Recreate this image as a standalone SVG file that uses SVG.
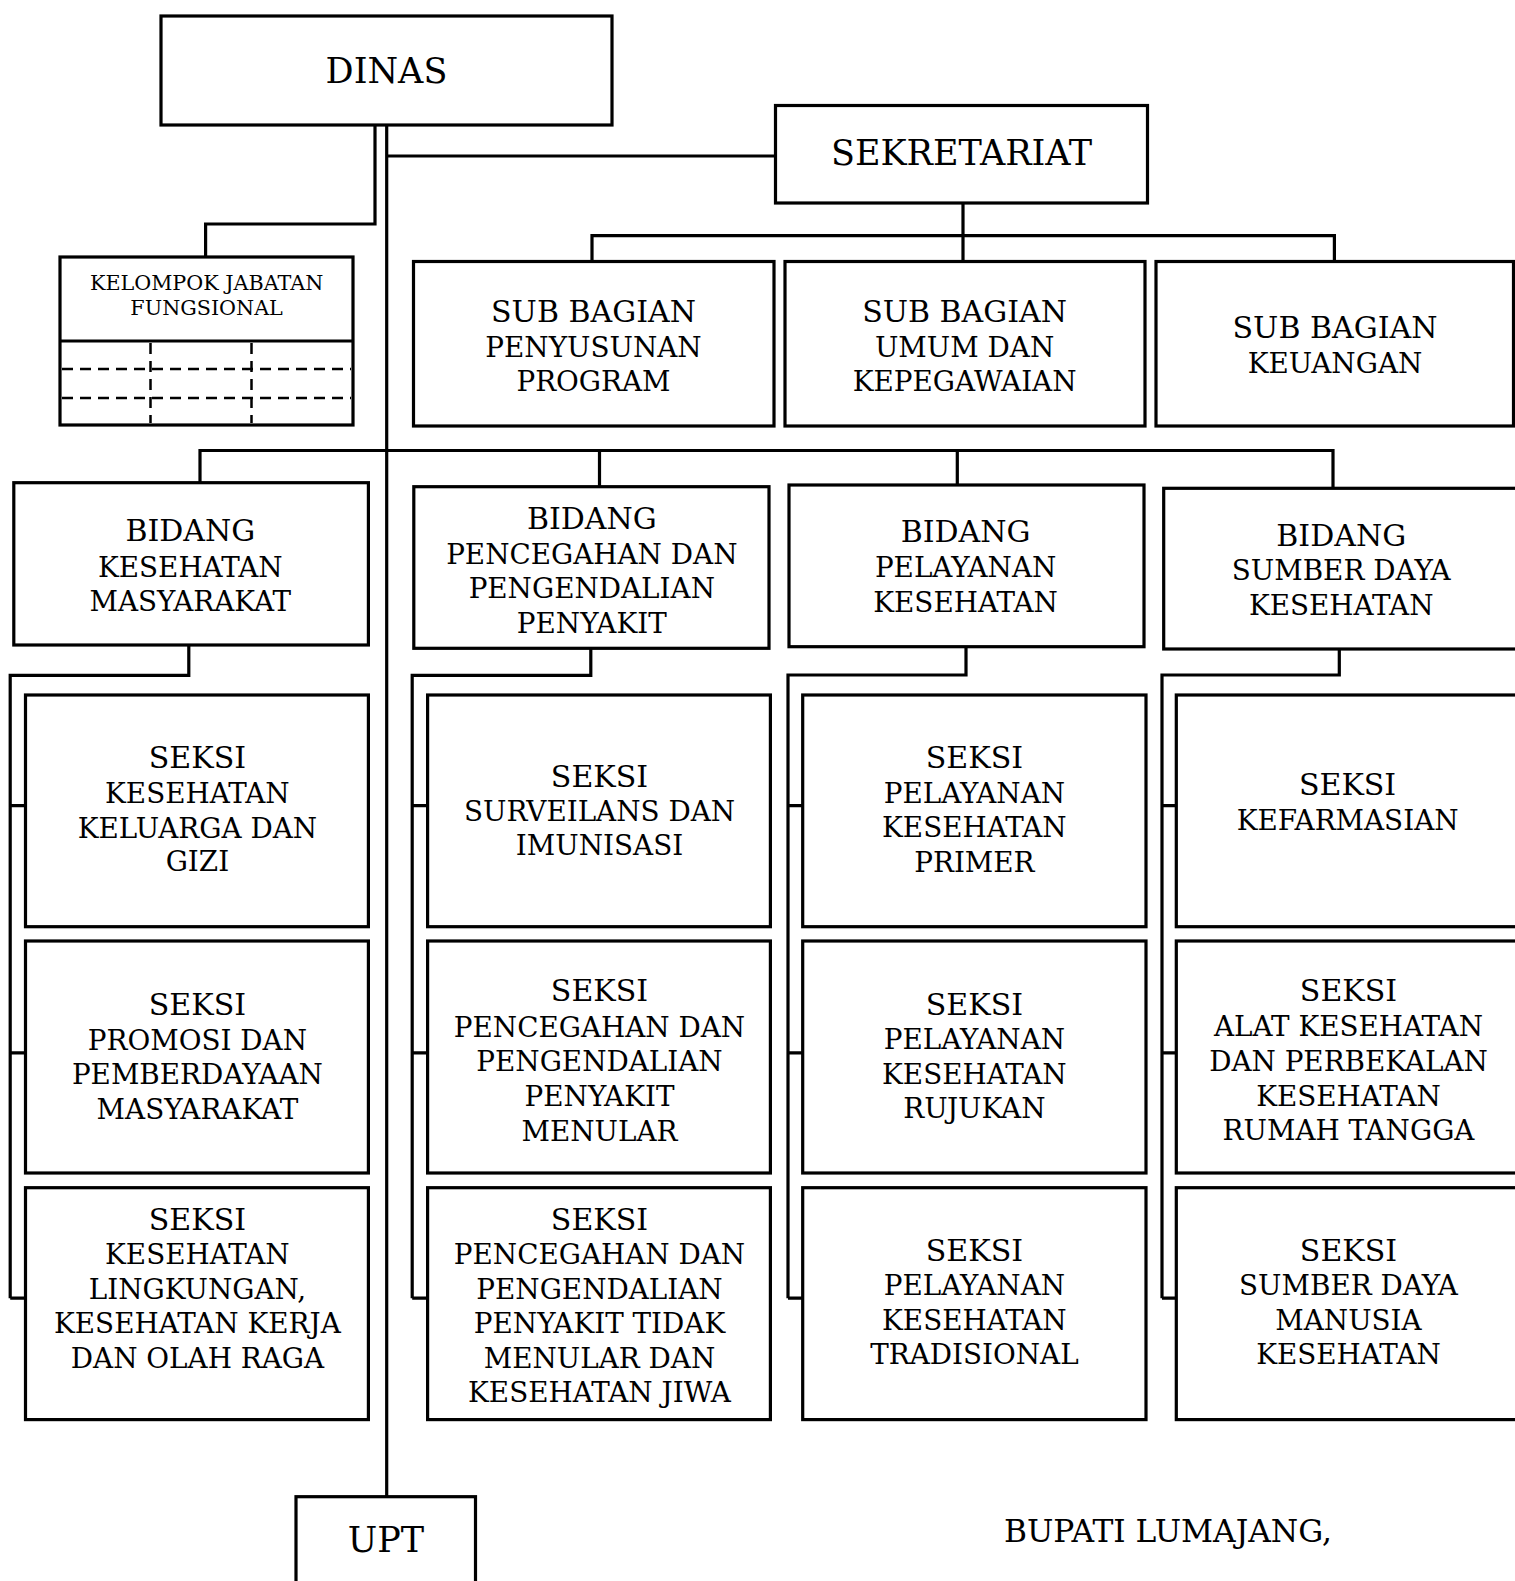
<svg xmlns="http://www.w3.org/2000/svg" width="1515" height="1581" viewBox="0 0 1515 1581">
<style>
.box{fill:#fff;stroke:#000;stroke-width:3.2}
.ln{fill:none;stroke:#000;stroke-width:3.2}
.dash{fill:none;stroke:#000;stroke-width:2.5;stroke-dasharray:11 7}
text{font-family:"DejaVu Serif","Liberation Serif",serif;fill:#000;text-anchor:middle}
.t{font-size:30px}
.s{font-size:27.8px}
.big{font-size:35px}
.sm{font-size:20.7px}
</style>
<rect width="1515" height="1581" fill="#fff"/>
<g id="connectors">
<path class="ln" d="M386.7,125 V1496"/>
<path class="ln" d="M375,125 V224 H205.6 V257"/>
<path class="ln" d="M386.7,156 H775.5"/>
<path class="ln" d="M963,203 V261.5 M592,261.5 V235.7 H1334.4 V261.5"/>
<path class="ln" d="M200,482.7 V450.5 H1333 V488.3 M599.5,450.5 V486.7 M957.3,450.5 V485"/>
<path class="ln" d="M188.8,645 V675.3 H10.2 V1298.2 M10.2,805.7 H25.5 M10.2,1052.8 H25.5 M10.2,1298.2 H25.5"/>
<path class="ln" d="M590.8,648.3 V675.3 H412.2 V1298.2 M412.2,805.7 H427.6 M412.2,1052.8 H427.6 M412.2,1298.2 H427.6"/>
<path class="ln" d="M966,646.7 V675 H788 V1298.2 M788,805.7 H802.7 M788,1052.8 H802.7 M788,1298.2 H802.7"/>
<path class="ln" d="M1339.3,649 V675 H1162 V1298.2 M1162,805.7 H1176.3 M1162,1052.8 H1176.3 M1162,1298.2 H1176.3"/>
</g>
<g id="dinas"><rect class="box" x="161" y="16" width="451" height="109"/><text class="big" x="386.5" y="83">DINAS</text></g>
<g id="sekretariat"><rect class="box" x="775.5" y="105.5" width="372" height="97.5"/><text class="big" x="961.5" y="165">SEKRETARIAT</text></g>
<g id="kelompok-jabatan-fungsional">
<rect class="box" x="60" y="257" width="293" height="168"/>
<path class="ln" d="M60,341 H353"/>
<path class="dash" d="M62,369 H351 M62,398 H351 M150.5,343 V423 M251.5,343 V423"/>
<text class="sm" x="206.6" y="290">KELOMPOK JABATAN</text>
<text class="sm" x="206.6" y="315">FUNGSIONAL</text>
</g>
<g id="sub-bagian-penyusunan-program"><rect class="box" x="413.5" y="261.5" width="360.5" height="164.5"/>
<text x="593.5"><tspan class="t" x="593.5" y="322">SUB BAGIAN</tspan><tspan class="s" x="593.5" y="356.7">PENYUSUNAN</tspan><tspan class="s" x="593.5" y="390.7">PROGRAM</tspan></text></g>
<g id="sub-bagian-umum"><rect class="box" x="785" y="261.5" width="360" height="164.5"/>
<text><tspan class="t" x="964.6" y="321.7">SUB BAGIAN</tspan><tspan class="s" x="964.6" y="356.7">UMUM DAN</tspan><tspan class="s" x="964.6" y="391">KEPEGAWAIAN</tspan></text></g>
<g id="sub-bagian-keuangan"><rect class="box" x="1156" y="261.5" width="357.5" height="164.5"/>
<text><tspan class="t" x="1335" y="337.7">SUB BAGIAN</tspan><tspan class="s" x="1335" y="372.7">KEUANGAN</tspan></text></g>
<g id="bidang-kesmas"><rect class="box" x="13.8" y="482.7" width="354.6" height="162.3"/>
<text><tspan class="t" x="190.3" y="541">BIDANG</tspan><tspan class="s" x="190.3" y="576.7">KESEHATAN</tspan><tspan class="s" x="190.3" y="610.7">MASYARAKAT</tspan></text></g>
<g id="bidang-p2p"><rect class="box" x="413.8" y="486.7" width="355.2" height="161.6"/>
<text><tspan class="t" x="591.8" y="529.3">BIDANG</tspan><tspan class="s" x="591.8" y="564">PENCEGAHAN DAN</tspan><tspan class="s" x="591.8" y="598.3">PENGENDALIAN</tspan><tspan class="s" x="591.8" y="632.7">PENYAKIT</tspan></text></g>
<g id="bidang-yankes"><rect class="box" x="789" y="485" width="355" height="161.7"/>
<text><tspan class="t" x="965.6" y="542.3">BIDANG</tspan><tspan class="s" x="965.6" y="577.3">PELAYANAN</tspan><tspan class="s" x="965.6" y="611.7">KESEHATAN</tspan></text></g>
<g id="bidang-sdk"><rect class="box" x="1163.7" y="488.3" width="370" height="160.7"/>
<text><tspan class="t" x="1341.2" y="545.7">BIDANG</tspan><tspan class="s" x="1341.2" y="580">SUMBER DAYA</tspan><tspan class="s" x="1341.2" y="615">KESEHATAN</tspan></text></g>
<g id="seksi-kesga-gizi"><rect class="box" x="25.5" y="695" width="342.9" height="231.7"/>
<text><tspan class="t" x="197.4" y="768.3">SEKSI</tspan><tspan class="s" x="197.4" y="802.7">KESEHATAN</tspan><tspan class="s" x="197.4" y="837.7">KELUARGA DAN</tspan><tspan class="s" x="197.4" y="871">GIZI</tspan></text></g>
<g id="seksi-promosi"><rect class="box" x="25.5" y="941" width="342.9" height="232"/>
<text><tspan class="t" x="197.4" y="1014.9">SEKSI</tspan><tspan class="s" x="197.4" y="1049.9">PROMOSI DAN</tspan><tspan class="s" x="197.4" y="1084.4">PEMBERDAYAAN</tspan><tspan class="s" x="197.4" y="1119">MASYARAKAT</tspan></text></g>
<g id="seksi-kesling"><rect class="box" x="25.5" y="1187.7" width="342.9" height="231.9"/>
<text><tspan class="t" x="197.4" y="1229.9">SEKSI</tspan><tspan class="s" x="197.4" y="1264.4">KESEHATAN</tspan><tspan class="s" x="197.4" y="1298.6">LINGKUNGAN,</tspan><tspan class="s" x="197.4" y="1333.2">KESEHATAN KERJA</tspan><tspan class="s" x="197.4" y="1367.7">DAN OLAH RAGA</tspan></text></g>
<g id="seksi-surveilans"><rect class="box" x="427.6" y="695" width="342.8" height="231.7"/>
<text><tspan class="t" x="599.5" y="786.7">SEKSI</tspan><tspan class="s" x="599.5" y="821">SURVEILANS DAN</tspan><tspan class="s" x="599.5" y="855.3">IMUNISASI</tspan></text></g>
<g id="seksi-p2pm"><rect class="box" x="427.6" y="941" width="342.8" height="232"/>
<text><tspan class="t" x="599.5" y="1001.4">SEKSI</tspan><tspan class="s" x="599.5" y="1036.8">PENCEGAHAN DAN</tspan><tspan class="s" x="599.5" y="1071">PENGENDALIAN</tspan><tspan class="s" x="599.5" y="1105.5">PENYAKIT</tspan><tspan class="s" x="599.5" y="1140.5">MENULAR</tspan></text></g>
<g id="seksi-p2ptm"><rect class="box" x="427.6" y="1187.7" width="342.8" height="231.9"/>
<text><tspan class="t" x="599.5" y="1229.9">SEKSI</tspan><tspan class="s" x="599.5" y="1264.4">PENCEGAHAN DAN</tspan><tspan class="s" x="599.5" y="1298.6">PENGENDALIAN</tspan><tspan class="s" x="599.5" y="1333.2">PENYAKIT TIDAK</tspan><tspan class="s" x="599.5" y="1367.7">MENULAR DAN</tspan><tspan class="s" x="599.5" y="1401.5">KESEHATAN JIWA</tspan></text></g>
<g id="seksi-primer"><rect class="box" x="802.7" y="695" width="343.3" height="231.7"/>
<text><tspan class="t" x="974.4" y="768.3">SEKSI</tspan><tspan class="s" x="974.4" y="802.7">PELAYANAN</tspan><tspan class="s" x="974.4" y="836.7">KESEHATAN</tspan><tspan class="s" x="974.4" y="871.7">PRIMER</tspan></text></g>
<g id="seksi-rujukan"><rect class="box" x="802.7" y="941" width="343.3" height="232"/>
<text><tspan class="t" x="974.4" y="1014.9">SEKSI</tspan><tspan class="s" x="974.4" y="1048.6">PELAYANAN</tspan><tspan class="s" x="974.4" y="1083.6">KESEHATAN</tspan><tspan class="s" x="974.4" y="1118.1">RUJUKAN</tspan></text></g>
<g id="seksi-tradisional"><rect class="box" x="802.7" y="1187.7" width="343.3" height="231.9"/>
<text><tspan class="t" x="974.4" y="1260.6">SEKSI</tspan><tspan class="s" x="974.4" y="1295.2">PELAYANAN</tspan><tspan class="s" x="974.4" y="1330.2">KESEHATAN</tspan><tspan class="s" x="974.4" y="1364">TRADISIONAL</tspan></text></g>
<g id="seksi-kefarmasian"><rect class="box" x="1176.3" y="695" width="360" height="231.7"/>
<text><tspan class="t" x="1347.6" y="795">SEKSI</tspan><tspan class="s" x="1347.6" y="830">KEFARMASIAN</tspan></text></g>
<g id="seksi-alkes"><rect class="box" x="1176.3" y="941" width="360" height="232"/>
<text><tspan class="t" x="1348.5" y="1001.4">SEKSI</tspan><tspan class="s" x="1348.5" y="1036">ALAT KESEHATAN</tspan><tspan class="s" x="1348.5" y="1071">DAN PERBEKALAN</tspan><tspan class="s" x="1348.5" y="1105.5">KESEHATAN</tspan><tspan class="s" x="1348.5" y="1140">RUMAH TANGGA</tspan></text></g>
<g id="seksi-sdm"><rect class="box" x="1176.3" y="1187.7" width="360" height="231.9"/>
<text><tspan class="t" x="1348.5" y="1260.6">SEKSI</tspan><tspan class="s" x="1348.5" y="1295.2">SUMBER DAYA</tspan><tspan class="s" x="1348.5" y="1330.2">MANUSIA</tspan><tspan class="s" x="1348.5" y="1364">KESEHATAN</tspan></text></g>
<g id="upt"><rect class="box" x="296" y="1496.7" width="179.5" height="120"/><text class="big" x="386" y="1552">UPT</text></g>
<text x="1168" y="1542" style="font-size:31.3px">BUPATI LUMAJANG,</text>
</svg>
